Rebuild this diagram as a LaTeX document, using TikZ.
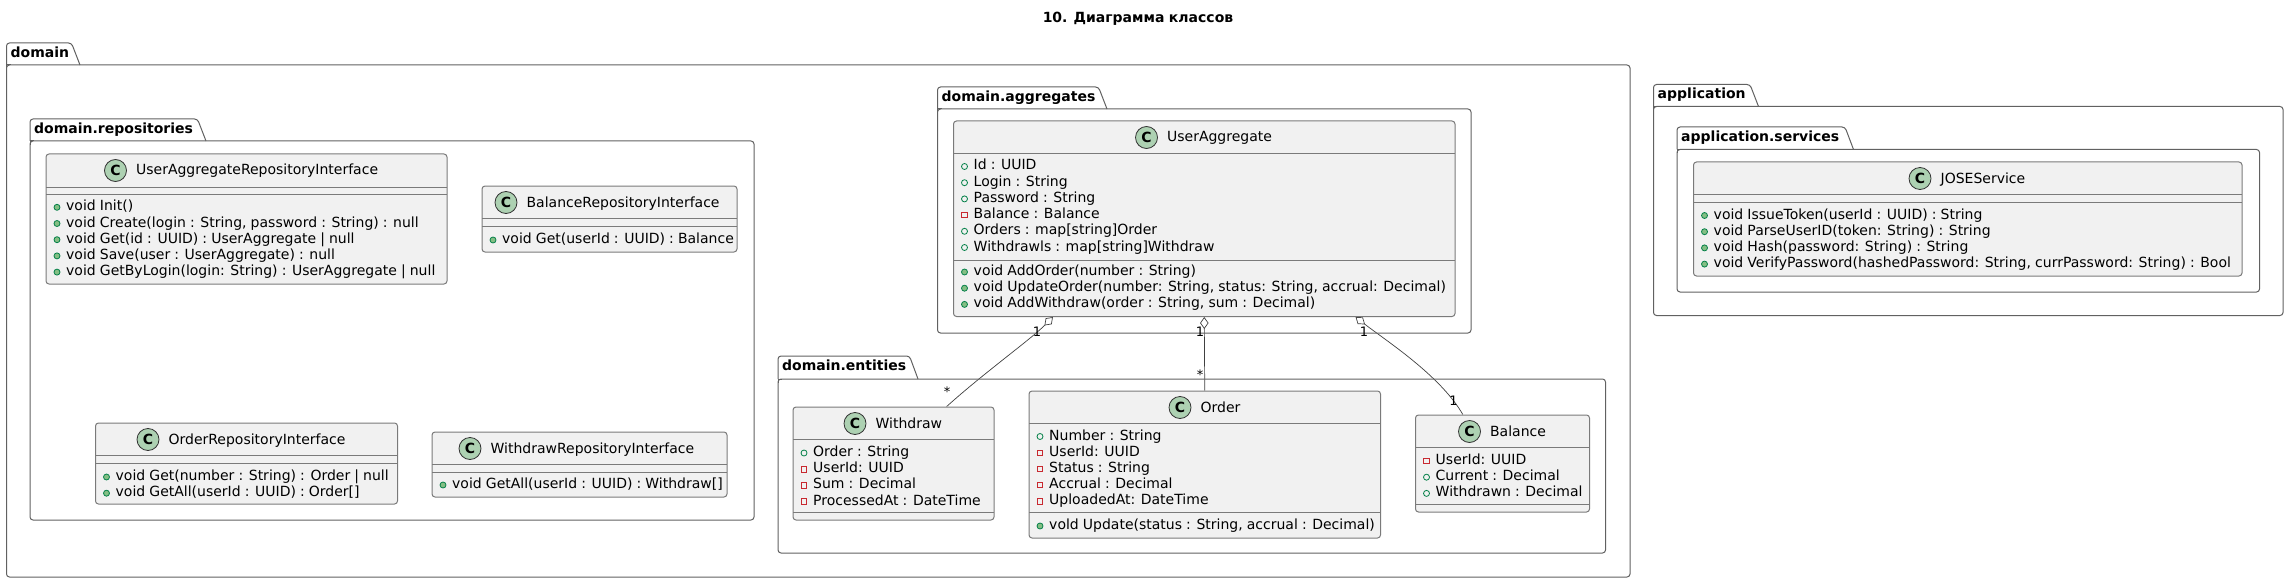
\documentclass[tikz,border=0pt]{standalone}
\usepackage{fontspec}
\setmainfont{DejaVu Sans}[WordSpace=0.92]
\usetikzlibrary{positioning, arrows.meta}
\pgfdeclarelayer{under}
\pgfsetlayers{under,main}
\definecolor{boxfill}{HTML}{F1F1F1}
\definecolor{stereofill}{HTML}{ADD1B2}
\definecolor{pubcol}{HTML}{038048}
\definecolor{pubfill}{HTML}{84BE84}
\definecolor{privcol}{HTML}{C82930}
\tikzset{
	x=1pt, y=-1pt, % one unit is one pixel of the reference
	pkgline/.style={draw=black!62, line width=1pt},
	pkgbody/.style={pkgline, rectangle, rounded corners=3pt, inner sep=0pt},
	pkgname/.style={anchor=west, inner sep=0pt, text height=11pt, text depth=2pt, font=\fontsize{14}{16}\selectfont\bfseries},
	umlclass/.style={draw=black!52, line width=1pt, fill=boxfill, rectangle, rounded corners=3pt, inner sep=0pt},
	classline/.style={draw=black!52, line width=1pt},
	stereo/.style={circle, draw=black!80, line width=0.8pt, fill=stereofill, minimum size=22pt, inner sep=0pt, font=\fontsize{14}{16}\selectfont\bfseries},
	classtitle/.style={inner sep=0pt, text height=11pt, text depth=2pt, font=\fontsize{14}{16}\selectfont},
	member/.style={inner sep=0pt, text height=11pt, text depth=2pt, font=\fontsize{14}{16}\selectfont},
	pubfield/.style={circle, draw=pubcol, line width=0.8pt, minimum size=6pt, inner sep=0pt},
	pubmeth/.style={circle, draw=pubcol, fill=pubfill, line width=0.8pt, minimum size=6pt, inner sep=0pt},
	privfield/.style={rectangle, draw=privcol, line width=0.8pt, minimum size=5.5pt, inner sep=0pt},
	aggr/.style={draw=black!75, line width=0.7pt, {Diamond[open,length=12pt,width=8.5pt]}-},
	multi/.style={inner sep=0pt, font=\fontsize{13}{15}\selectfont},
}
% name, label, left, tab top, body top, right, bottom, tab right
\newcommand{\pkg}[8]{
	\node[pkgbody, minimum width={#6-#3}, minimum height={#7-#5}] (#1) at ({(#3+#6)/2},{(#5+#7)/2}) {};
	\draw[pkgline] ({#3+4},#5) -| (#3,{#5+4});
	\draw[pkgline, rounded corners=3pt] (#3,#5) -- (#3,#4) -- ({#8-8.5},#4) -- (#8,#5);
	\node[pkgname] (#1name) at ({#3+4},{#4+10}) {#2};
}
% name, title, left, top, right, bottom, first line, second line, circle x
\newcommand{\classbox}[9]{
	\node[umlclass, minimum width={#5-#3}, minimum height={#6-#4}] (#1) at ({(#3+#5)/2},{(#4+#6)/2}) {};
	\draw[classline] (#3,#7) -- (#5,#7);
	\draw[classline] (#3,#8) -- (#5,#8);
	\node[stereo] (#1c) at (#9,{#4+16.5}) {C};
	\node[classtitle, right=9pt of #1c] (#1t) {#2};
}
% prefix, box left, first row, rows
\newcommand{\members}[4]{
	\foreach \kind/\txt [count=\i] in {#4} {
		\node[\kind] (#1k\i) at ({#2+11},{#3+16.2*(\i-1)+1}) {};
		\node[member, anchor=west] (#1m\i) at ({#2+20},{#3+16.2*(\i-1)}) {\txt};
	}
}
\begin{document}
\begin{tikzpicture}
	\useasboundingbox (0,0) rectangle (2289,583);
	\node[pkgname, anchor=center] (title) at (1138,18) {10. Диаграмма классов};

	% packages
	\pkg{domain}{domain}{6.5}{43}{65}{1630}{577}{80}
	\pkg{repositories}{domain.repositories}{30}{119}{141}{754}{520}{206}
	\pkg{aggregates}{domain.aggregates}{937.5}{87}{109}{1471}{333}{1107}
	\pkg{entities}{domain.entities}{778}{356}{379}{1605.5}{553}{918}
	\pkg{application}{application}{1653.5}{84.5}{106.5}{2283}{315.5}{1758.5}
	\pkg{services}{application.services}{1677}{127}{149.5}{2259.5}{292}{1853.5}

	% repositories
	\classbox{userrepo}{UserAggregateRepositoryInterface}{46}{154}{447}{284}{187}{194}{115.5}
	\members{ur}{46}{206.3}{pubmeth/{void Init()}, pubmeth/{void Create(login : String, password : String) : null}, pubmeth/{void Get(id : UUID) : UserAggregate | null}, pubmeth/{void Save(user : UserAggregate) : null}, pubmeth/{void GetByLogin(login: String) : UserAggregate | null}}
	\classbox{balancerepo}{BalanceRepositoryInterface}{482}{186}{737}{252}{218}{226}{506}
	\members{br}{482}{239}{pubmeth/{void Get(userId : UUID) : Balance}}
	\classbox{orderrepo}{OrderRepositoryInterface}{95.5}{423}{397.5}{504}{455}{463}{148}
	\members{or}{95.5}{476}{pubmeth/{void Get(number : String) : Order | null}, pubmeth/{void GetAll(userId : UUID) : Order[]}}
	\classbox{withdrawrepo}{WithdrawRepositoryInterface}{432}{432}{727}{497}{464}{472}{470}
	\members{wr}{432}{484}{pubmeth/{void GetAll(userId : UUID) : Withdraw[]}}

	% aggregate
	\classbox{useragg}{UserAggregate}{953.5}{121}{1455}{316.5}{154}{260}{1146.5}
	\members{uf}{953.5}{165.5}{pubfield/{Id : UUID}, pubfield/{Login : String}, pubfield/{Password : String}, privfield/{Balance : Balance}, pubfield/{Orders : map[string]Order}, pubfield/{Withdrawls : map[string]Withdraw}}
	\members{um}{953.5}{271}{pubmeth/{void AddOrder(number : String)}, pubmeth/{void UpdateOrder(number: String, status: String, accrual: Decimal)}, pubmeth/{void AddWithdraw(order : String, sum : Decimal)}}

	% entities
	\classbox{withdraw}{Withdraw}{793}{407}{994}{520}{439}{512}{855}
	\members{wf}{793}{452}{pubfield/{Order : String}, privfield/{UserId: UUID}, privfield/{Sum : Decimal}, privfield/{ProcessedAt : DateTime}}
	\classbox{order}{Order}{1029}{391}{1380.5}{538}{423}{512}{1180}
	\members{of}{1029}{435.5}{pubfield/{Number : String}, privfield/{UserId: UUID}, privfield/{Status : String}, privfield/{Accrual : Decimal}, privfield/{UploadedAt: DateTime}}
	\members{om}{1029}{525}{pubmeth/{vold Update(status : String, accrual : Decimal)}}
	\classbox{balance}{Balance}{1415.5}{415}{1589.5}{512}{447}{504}{1469.5}
	\members{bf}{1415.5}{460}{privfield/{UserId: UUID}, pubfield/{Current : Decimal}, pubfield/{Withdrawn : Decimal}}

	% application
	\classbox{jose}{JOSEService}{1693.5}{162}{2242}{276}{194}{202}{1920}
	\members{jm}{1693.5}{214.5}{pubmeth/{void IssueToken(userId : UUID) : String}, pubmeth/{void ParseUserID(token: String) : String}, pubmeth/{void Hash(password: String) : String}, pubmeth/{void VerifyPassword(hashedPassword: String, currPassword: String) : Bool}}

	% aggregations go under the class boxes
	\begin{pgfonlayer}{under}
		\draw[aggr] (useragg.213.2) .. controls (1030,340) and (985,372) .. (withdraw.47.4);
		\draw[aggr] (useragg.south) -- (order.north);
		\draw[aggr] (useragg.-33.2) .. controls (1385,340) and (1440,375) .. (balance.129.2);
	\end{pgfonlayer}
	\node[multi] (m1) at (1037,332) {1};
	\node[multi] (m2) at (947,392) {*};
	\node[multi] (m3) at (1200,332) {1};
	\node[multi] (m4) at (1200,375) {*};
	\node[multi] (m5) at (1364,332) {1};
	\node[multi] (m6) at (1453.5,400.5) {1};
\end{tikzpicture}
\end{document}
